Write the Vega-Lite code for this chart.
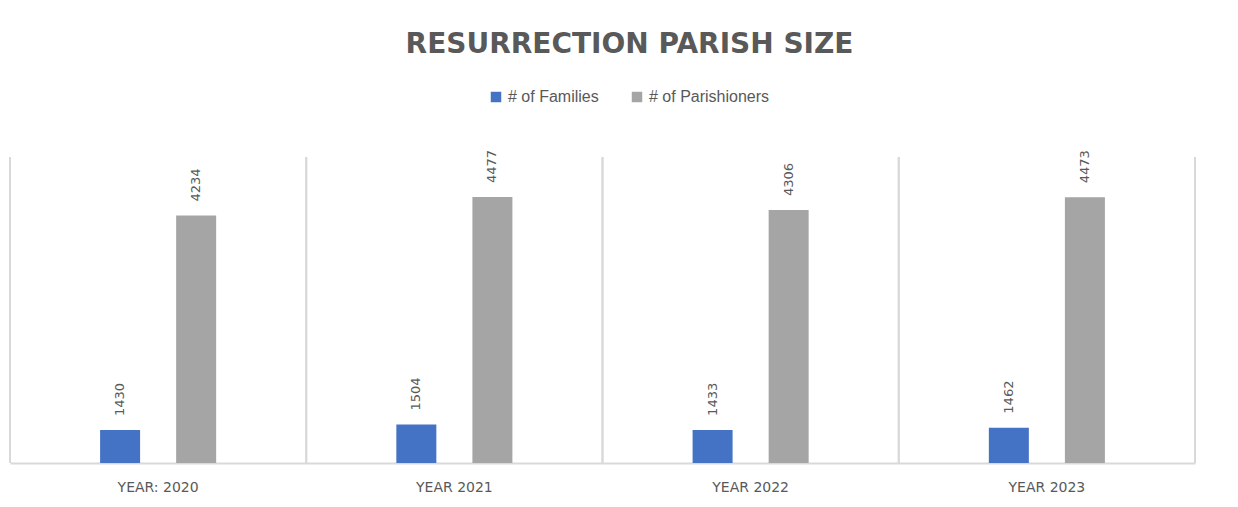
{
  "$schema": "https://vega.github.io/schema/vega-lite/v6.json",
  "width": 1185,
  "height": 306,
  "autosize": {"type": "none"},
  "padding": {"left": 10, "top": 157, "right": 43, "bottom": 44},
  "background": "white",
  "title": {
    "text": "RESURRECTION  PARISH SIZE",
    "font": "DejaVu Sans",
    "fontSize": 28,
    "fontWeight": "bold",
    "color": "#595959",
    "anchor": "middle",
    "offset": 30,
    "dx": 27
  },
  "data": {
    "values": [
      {"year": "YEAR:  2020", "series": "# of Families", "value": 1430},
      {"year": "YEAR:  2020", "series": "# of Parishioners", "value": 4234},
      {"year": "YEAR 2021", "series": "# of Families", "value": 1504},
      {"year": "YEAR 2021", "series": "# of Parishioners", "value": 4477},
      {"year": "YEAR 2022", "series": "# of Families", "value": 1433},
      {"year": "YEAR 2022", "series": "# of Parishioners", "value": 4306},
      {"year": "YEAR 2023", "series": "# of Families", "value": 1462},
      {"year": "YEAR 2023", "series": "# of Parishioners", "value": 4473}
    ]
  },
  "encoding": {
    "x": {
      "field": "year",
      "type": "nominal",
      "sort": null,
      "scale": {"paddingInner": 0, "paddingOuter": 0},
      "axis": {
        "title": null,
        "labelAngle": 0,
        "labelFont": "DejaVu Sans",
        "labelFontSize": 14,
        "labelColor": "#595959",
        "labelPadding": 17,
        "ticks": false,
        "tickSize": 0,
        "domainColor": "#d9d9d9",
        "domainWidth": 2,
        "grid": false
      }
    }
  },
  "layer": [
    {
      "mark": {"type": "rule", "color": "#d9d9d9", "strokeWidth": 2},
      "encoding": {
        "x": {"field": "year", "type": "nominal", "sort": null, "bandPosition": 0}
      }
    },
    {
      "mark": {"type": "rule", "color": "#d9d9d9", "strokeWidth": 2},
      "encoding": {
        "x": {"datum": "YEAR 2023", "type": "nominal", "bandPosition": 1}
      }
    },
    {
      "mark": {"type": "bar", "clip": true, "width": 40},
      "encoding": {
        "xOffset": {
          "field": "series",
          "type": "nominal",
          "sort": ["# of Families", "# of Parishioners"],
          "scale": {"paddingInner": 0.105, "paddingOuter": 1}
        },
        "y": {
          "field": "value",
          "type": "quantitative",
          "scale": {"domain": [1000, 5000], "zero": false, "nice": false},
          "axis": null
        },
        "color": {
          "field": "series",
          "type": "nominal",
          "sort": ["# of Families", "# of Parishioners"],
          "scale": {"range": ["#4472C4", "#A5A5A5"]},
          "legend": {
            "title": null,
            "orient": "none",
            "legendX": 478,
            "legendY": -68,
            "direction": "horizontal",
            "symbolType": "square",
            "symbolSize": 110,
            "symbolStrokeWidth": 0,
            "labelFont": "Liberation Sans",
            "labelFontSize": 16,
            "labelColor": "#595959",
            "columnPadding": 30
          }
        }
      }
    },
    {
      "mark": {
        "type": "text",
        "angle": 270,
        "align": "left",
        "baseline": "middle",
        "dx": 14,
        "font": "DejaVu Sans",
        "fontSize": 13,
        "color": "#595959"
      },
      "encoding": {
        "xOffset": {
          "field": "series",
          "type": "nominal",
          "sort": ["# of Families", "# of Parishioners"],
          "scale": {"paddingInner": 0.105, "paddingOuter": 1}
        },
        "y": {"field": "value", "type": "quantitative"},
        "text": {"field": "value", "type": "quantitative"}
      }
    }
  ],
  "config": {"view": {"stroke": null}}
}
